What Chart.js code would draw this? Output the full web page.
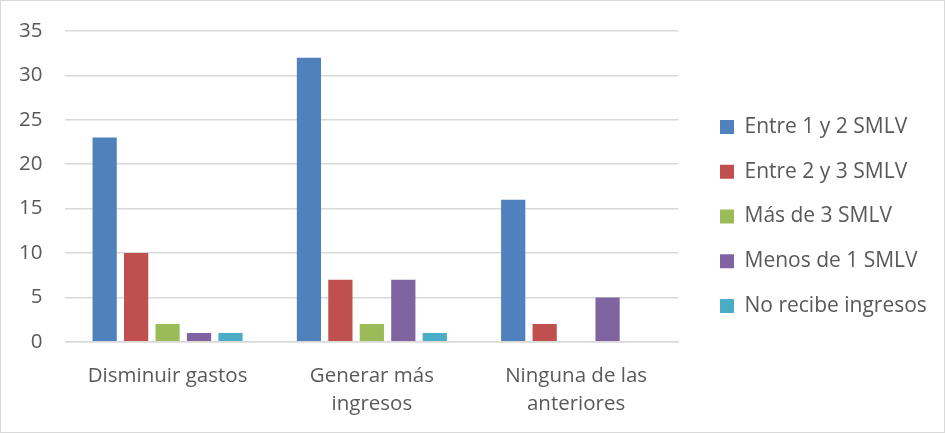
<!DOCTYPE html>
<html>
<head>
<meta charset="utf-8">
<script src="https://cdn.jsdelivr.net/npm/chart.js@4"></script>
<style>
  html, body { margin: 0; padding: 0; background: #fff; }
  #marco { width: 945px; height: 433px; box-sizing: border-box; border: 1px solid #d9d9d9; }
</style>
</head>
<body>
<div id="marco"><canvas id="grafico"></canvas></div>
<script>
var categorias = [["Disminuir gastos"], ["Generar más", "ingresos"], ["Ninguna de las", "anteriores"]];
var entre1y2 = [23, 32, 16];
var entre2y3 = [10, 7, 2];
var masDe3 = [2, 2, 0];
var menosDe1 = [1, 7, 5];
var noRecibe = [1, 1, 0];

var colorTexto = "#595959";
var familia = "'Open Sans', sans-serif";

function serie(nombre, datos, color) {
  return {
    label: nombre,
    data: datos,
    backgroundColor: color,
    borderWidth: 0,
    categoryPercentage: 0.77,
    barPercentage: 0.77
  };
}

// Chart.js suma el padding de los ticks de más al medir el eje
function quitarPaddingExtra(escala) {
  var pad = escala.options.ticks.padding;
  if (escala.isHorizontal()) {
    escala.height -= pad;
  } else {
    escala.width -= pad;
    escala.paddingTop -= pad;
    escala.paddingBottom -= pad;
  }
}

// separa la leyenda del área del gráfico (y evita que recorte el texto)
var moverLeyenda = {
  id: "moverLeyenda",
  afterLayout: function (chart) {
    var ley = chart.legend;
    ley.left += 18;
    ley.right = chart.width;
    ley.width = ley.right - ley.left;
    ley.top -= 8;
    ley.bottom -= 8;
  }
};

var ctx = document.getElementById("grafico");
new Chart(ctx, {
  type: "bar",
  data: {
    labels: categorias,
    datasets: [
      serie("Entre 1 y 2 SMLV", entre1y2, "#4f81bd"),
      serie("Entre 2 y 3 SMLV", entre2y3, "#c0504d"),
      serie("Más de 3 SMLV", masDe3, "#9bbb59"),
      serie("Menos de 1 SMLV", menosDe1, "#8064a2"),
      serie("No recibe ingresos", noRecibe, "#4bacc6")
    ]
  },
  plugins: [moverLeyenda],
  options: {
    responsive: true,
    maintainAspectRatio: false,
    animation: false,
    layout: { padding: { left: 18, right: 46, top: 30, bottom: 14 } },
    plugins: {
      tooltip: { enabled: false },
      legend: {
        position: "right",
        labels: {
          boxWidth: 14,
          boxHeight: 14,
          padding: 23.75,
          color: colorTexto,
          font: { family: familia, size: 21 }
        }
      }
    },
    scales: {
      x: {
        grid: { display: false, drawTicks: false },
        border: { color: "#d9d9d9", width: 1.5 },
        ticks: { color: colorTexto, font: { family: familia, size: 20.5, lineHeight: 1.37 }, padding: 20, maxRotation: 0 },
        afterFit: quitarPaddingExtra
      },
      y: {
        min: 0,
        max: 35,
        ticks: { stepSize: 5, color: colorTexto, font: { family: familia, size: 20.5 }, padding: 23 },
        grid: { color: "#d9d9d9", lineWidth: 1.5, drawTicks: false },
        border: { display: false },
        afterFit: quitarPaddingExtra
      }
    }
  }
});
</script>
</body>
</html>
